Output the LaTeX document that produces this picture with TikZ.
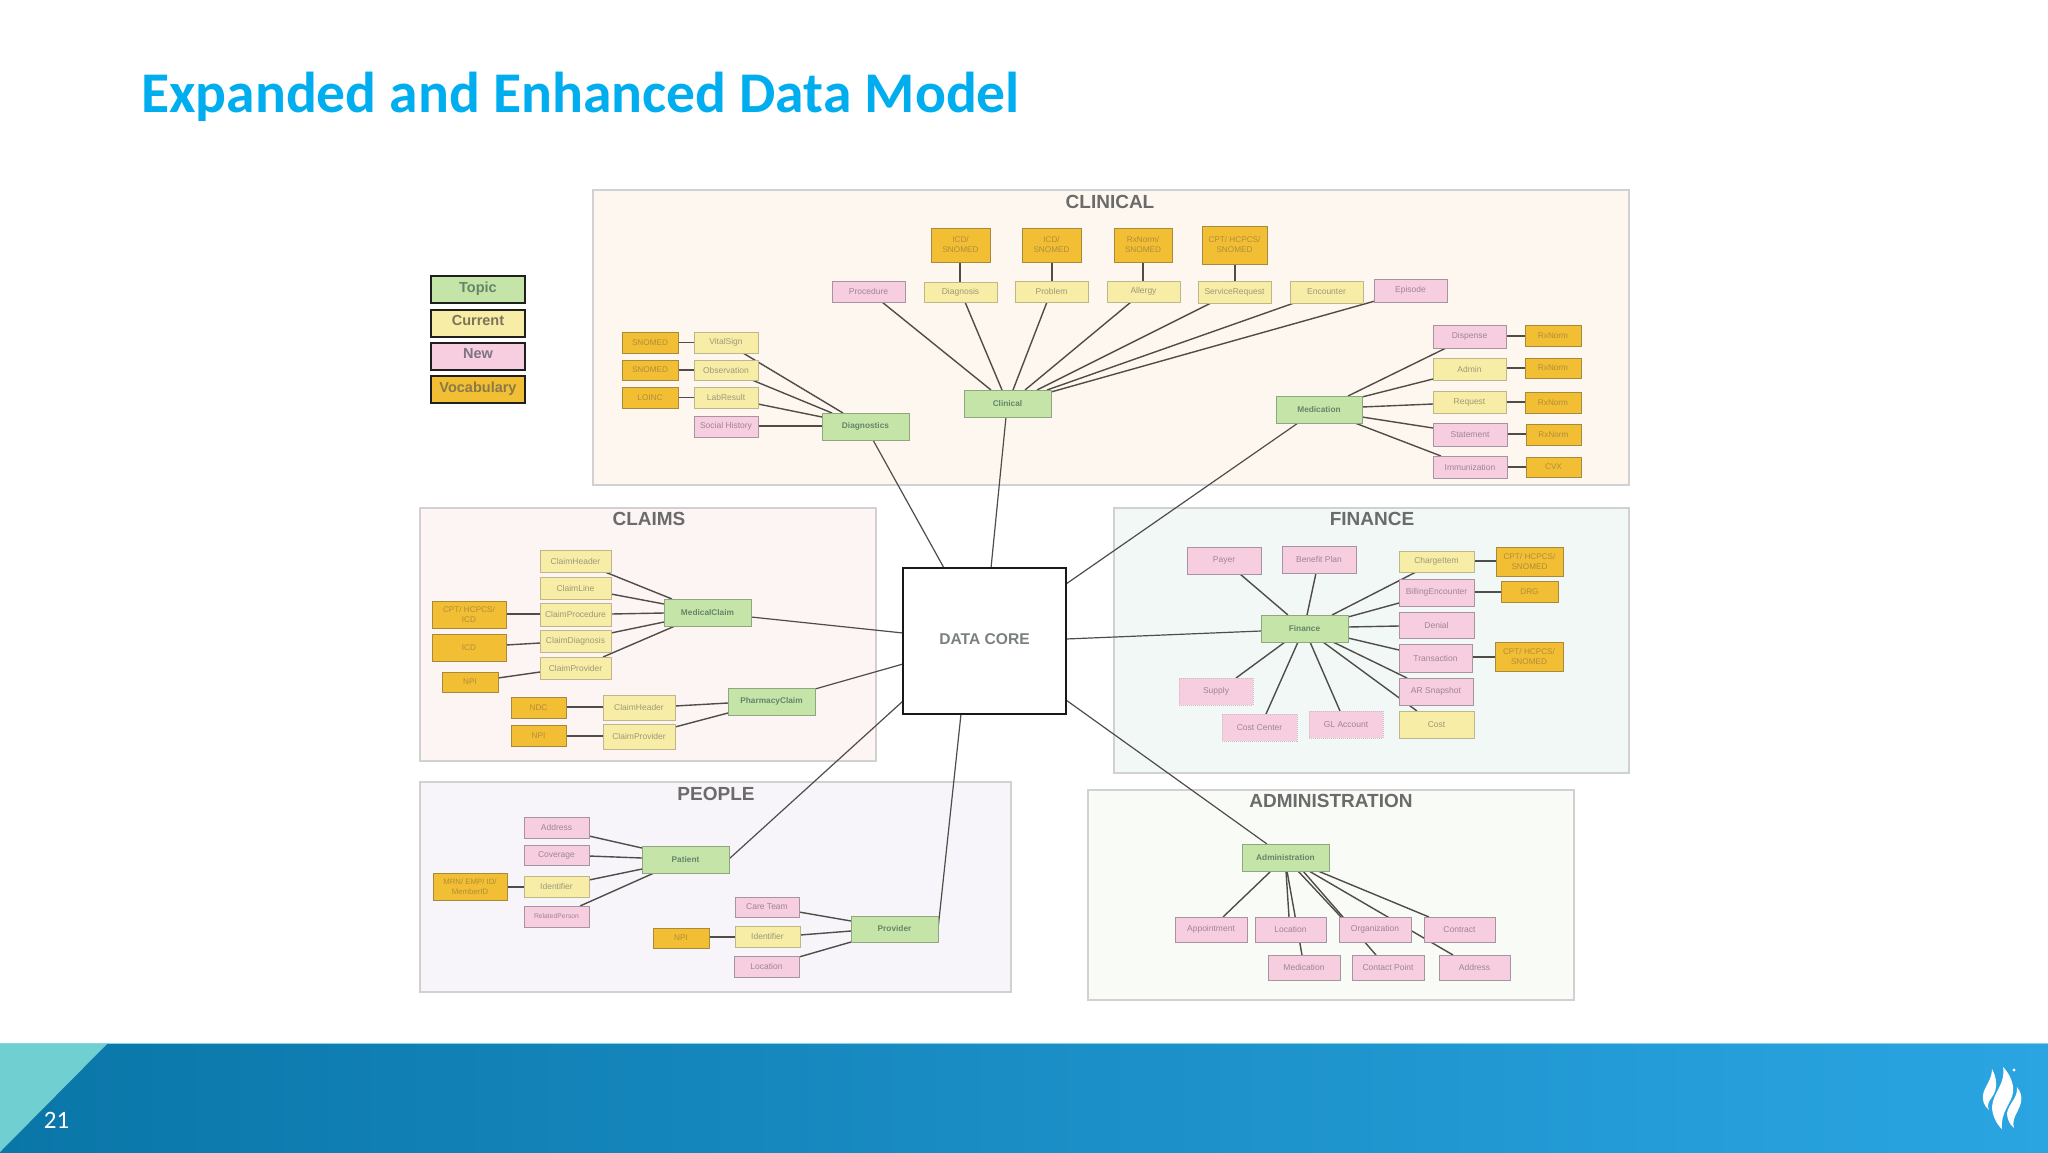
\documentclass[tikz,border=0pt]{standalone}
\usepackage{fontspec}
\setmainfont{Liberation Sans}
\newfontfamily\carlito{Carlito}
\pgfdeclarelayer{panel}
\pgfdeclarelayer{lines}
\pgfsetlayers{panel,lines,main}
\definecolor{gfill}{HTML}{C5E5A8}\definecolor{gdraw}{HTML}{8FA681}\definecolor{gtext}{HTML}{64856A}
\definecolor{yfill}{HTML}{F8EDA6}\definecolor{ydraw}{HTML}{BDB78A}\definecolor{ytext}{HTML}{9C9878}
\definecolor{pfill}{HTML}{F6CEDF}\definecolor{pdraw}{HTML}{A8949E}\definecolor{ptext}{HTML}{A08496}
\definecolor{ofill}{HTML}{F2BE33}\definecolor{odraw}{HTML}{A98A3C}\definecolor{otext}{HTML}{B08E3C}
\definecolor{linkc}{HTML}{504C48}\definecolor{titlec}{HTML}{00AEEF}
\definecolor{footl}{HTML}{0A76A8}\definecolor{footr}{HTML}{2AA5E2}\definecolor{foott}{HTML}{70CFD0}\definecolor{footline}{HTML}{82D7E6}
\definecolor{clinbg}{HTML}{FEF7EF}\definecolor{claimbg}{HTML}{FDF4F4}\definecolor{finbg}{HTML}{F1F8F6}\definecolor{peoplebg}{HTML}{F7F5FA}\definecolor{admbg}{HTML}{F9FBF6}
\definecolor{lgcur}{HTML}{7C7458}\definecolor{lgnew}{HTML}{7E7484}\definecolor{lgvoc}{HTML}{8A7A48}\definecolor{coretext}{HTML}{7A8080}
\tikzset{
 base/.style={inner sep=0pt,outer sep=0pt,align=center,line width=1pt,font=\fontsize{8.5}{10}\selectfont},
 topic/.style={base,fill=gfill,draw=gdraw,text=gtext,font=\fontsize{8.3}{10}\selectfont\bfseries},
 cur/.style={base,fill=yfill,draw=ydraw,text=ytext},
 new/.style={base,fill=pfill,draw=pdraw,text=ptext},
 newd/.style={new,draw=pdraw!60,densely dotted},
 vocab/.style={base,fill=ofill,draw=odraw,text=otext,font=\fontsize{8.2}{10}\selectfont},
 panel/.style={base,draw=black!18,line width=1.2pt},
 ptitle/.style={inner sep=0pt,text=black!58,font=\fontsize{19}{22}\selectfont\bfseries},
 legend/.style={base,draw=black!88,line width=2.5pt,font=\fontsize{14.5}{16}\selectfont\bfseries},
 core/.style={base,fill=white,draw=black!90,line width=2.5pt,text=coretext,font=\fontsize{15.6}{18}\selectfont\bfseries},
 link/.style={draw=linkc,line width=1.4pt},
 clink/.style={draw=linkc,line width=1.2pt},
 flame/.style={fill=white,draw=none},
}
% style, name, x0, y0, x1, y1, text
\newcommand\nbox[7]{%
 \pgfmathsetmacro\cxx{(#3+#5)/2}\pgfmathsetmacro\cyy{(#4+#6)/2}%
 \pgfmathsetmacro\www{#5-#3}\pgfmathsetmacro\hhh{#6-#4}%
 \expandafter\xdef\csname cx-#2\endcsname{\cxx}\expandafter\xdef\csname cy-#2\endcsname{\cyy}%
 \node[#1,minimum width=\www pt,minimum height=\hhh pt] (#2) at (\cxx,\cyy) {#7};}
% style, node a, xa, ya, node b, xb, yb : offsets are taken from the node centres
\newcommand\lnk[7][link]{%
 \pgfmathsetmacro\lax{#3-\csname cx-#2\endcsname}\pgfmathsetmacro\lay{#4-\csname cy-#2\endcsname}%
 \pgfmathsetmacro\lbx{#6-\csname cx-#5\endcsname}\pgfmathsetmacro\lby{#7-\csname cy-#5\endcsname}%
 \begin{pgfonlayer}{lines}\draw[#1] ([shift={(\lax,\lay)}]#2.center) -- ([shift={(\lbx,\lby)}]#5.center);\end{pgfonlayer}}
\begin{document}
\begin{tikzpicture}[x=1pt,y=-1pt]
\useasboundingbox (0,0) rectangle (2048,1152);
\begin{pgfonlayer}{panel}
\fill[white] (0,0) rectangle (2048,1152);
\end{pgfonlayer}
\node[anchor=base west,inner sep=0pt,text=titlec,font=\carlito\fontsize{57.6}{62}\selectfont\bfseries] (title) at (141,112.7) {Expanded and Enhanced Data Model};

% footer
\shade[left color=footl,right color=footr] (0,1043) rectangle (2048,1152);
\fill[foott] (0,1043) -- (108,1043) -- (0,1152) -- cycle;
\fill[footline] (0,1042.5) rectangle (2048,1044);
\node[text=white,inner sep=0pt,font=\carlito\fontsize{25}{28}\selectfont] (pageno) at (56.5,1120) {21};
\fill[flame] (1992,1069) .. controls (1997,1078) and (1998,1089) .. (1992,1097) .. controls (1988,1102) and (1987,1106) .. (1989,1110) .. controls (1984,1106) and (1982,1100) .. (1983,1095) .. controls (1984,1087) and (1992,1080) .. (1992,1069) -- cycle;
\fill[flame] (2003,1067) .. controls (2010,1074) and (2014,1084) .. (2013,1092) .. controls (2012,1103) and (2000,1112) .. (2002,1129) .. controls (1996,1124) and (1992,1114) .. (1992,1107) .. controls (1993,1092) and (2006,1084) .. (2003,1067) -- cycle;
\fill[flame] (2017,1087) .. controls (2021,1092) and (2022,1097) .. (2021,1102) .. controls (2019,1112) and (2011,1118) .. (2014,1128) .. controls (2009,1124) and (2007,1118) .. (2007,1113) .. controls (2009,1103) and (2018,1098) .. (2017,1087) -- cycle;
\fill[flame] (2014,1070) circle (1.7);

% legend
\nbox{legend,fill=gfill,text=gtext}{lgT}{431}{276}{525}{303}{\raisebox{5.5pt}{Topic}}
\nbox{legend,fill=yfill,text=lgcur}{lgC}{431}{310}{525}{337}{\raisebox{5.5pt}{Current}}
\nbox{legend,fill=pfill,text=lgnew}{lgN}{431}{343}{525}{370}{\raisebox{5.5pt}{New}}
\nbox{legend,fill=ofill,text=lgvoc}{lgV}{431}{376}{525}{403}{\raisebox{5.5pt}{Vocabulary}}

% panels
\begin{pgfonlayer}{panel}
\nbox{panel,fill=clinbg}{pClin}{593}{190}{1629}{485}{}
\nbox{panel,fill=claimbg}{pClaims}{420}{508}{876}{761}{}
\nbox{panel,fill=finbg}{pFin}{1114}{508}{1629}{773}{}
\nbox{panel,fill=peoplebg}{pPeople}{420}{782}{1011}{992}{}
\nbox{panel,fill=admbg}{pAdm}{1088}{790}{1574}{1000}{}
\end{pgfonlayer}
\node[ptitle] (tClin) at (1110,202) {CLINICAL};
\node[ptitle] (tClaims) at (649,519) {CLAIMS};
\node[ptitle] (tFin) at (1372,519) {FINANCE};
\node[ptitle] (tPeople) at (716,794) {PEOPLE};
\node[ptitle] (tAdm) at (1331,801) {ADMINISTRATION};

% core
\nbox{core}{core}{903}{568}{1066}{714}{\raisebox{3pt}{DATA CORE}}

% clinical
\nbox{vocab}{vICD1}{931}{228}{990}{262}{ICD/\\SNOMED}
\nbox{vocab}{vICD2}{1022}{228}{1081}{262}{ICD/\\SNOMED}
\nbox{vocab}{vRx}{1114}{228}{1172}{262}{RxNorm/\\SNOMED}
\nbox{vocab}{vCPT}{1202}{226}{1267}{264}{CPT/ HCPCS/\\SNOMED}
\nbox{new}{proc}{832}{281}{905}{302}{Procedure}
\nbox{cur}{dx}{924}{282}{997}{302}{Diagnosis}
\nbox{cur}{prob}{1015}{281}{1088}{302}{Problem}
\nbox{cur}{allergy}{1107}{281}{1180}{302}{Allergy}
\nbox{cur}{sreq}{1198}{281}{1271}{303}{ServiceRequest}
\nbox{cur}{enc}{1290}{281}{1363}{303}{Encounter}
\nbox{new}{episode}{1374}{279}{1447}{302}{Episode}
\nbox{vocab}{vS1}{622}{332}{678}{353}{SNOMED}
\nbox{vocab}{vS2}{622}{360}{678}{380}{SNOMED}
\nbox{vocab}{vL}{622}{387}{678}{408}{LOINC}
\nbox{cur}{vital}{694}{332}{758}{353}{VitalSign}
\nbox{cur}{obs}{694}{360}{758}{380}{Observation}
\nbox{cur}{lab}{694}{387}{758}{408}{LabResult}
\nbox{new}{social}{694}{416}{758}{437}{Social History}
\nbox{topic}{diag}{822}{413}{909}{440}{Diagnostics}
\nbox{topic}{clin}{964}{390}{1051}{417}{Clinical}
\nbox{topic}{med}{1276}{396}{1362}{423}{Medication}
\nbox{new}{disp}{1433}{325}{1506}{348}{Dispense}
\nbox{cur}{admin}{1433}{358}{1506}{380}{Admin}
\nbox{cur}{req}{1433}{391}{1506}{413}{Request}
\nbox{new}{stmt}{1433}{423}{1507}{446}{Statement}
\nbox{new}{imm}{1433}{456}{1507}{478}{Immunization}
\nbox{vocab}{vR1}{1525}{325}{1581}{346}{RxNorm}
\nbox{vocab}{vR2}{1525}{358}{1581}{378}{RxNorm}
\nbox{vocab}{vR3}{1525}{392}{1581}{413}{RxNorm}
\nbox{vocab}{vR4}{1526}{424}{1581}{445}{RxNorm}
\nbox{vocab}{vC}{1526}{457}{1581}{477}{CVX}

\lnk{vICD1}{960}{262}{dx}{960}{282}
\lnk{vICD2}{1052}{262}{prob}{1052}{281}
\lnk{vRx}{1143}{262}{allergy}{1143}{281}
\lnk{vCPT}{1235}{264}{sreq}{1235}{281}
\lnk{proc}{882}{302}{clin}{991}{390}
\lnk{dx}{965}{302}{clin}{1002}{390}
\lnk{prob}{1047}{302}{clin}{1013}{390}
\lnk{allergy}{1131}{302}{clin}{1025}{390}
\lnk{sreq}{1211}{303}{clin}{1037}{390}
\lnk{enc}{1294}{303}{clin}{1047}{390}
\lnk{episode}{1375}{301}{clin}{1051}{392}
\lnk{vS1}{678}{342.5}{vital}{694}{342.5}
\lnk{vS2}{678}{370}{obs}{694}{370}
\lnk{vL}{678}{397.5}{lab}{694}{397.5}
\lnk{vital}{743}{353}{diag}{843}{413}
\lnk{obs}{752}{380}{diag}{832}{413}
\lnk{lab}{758}{404}{diag}{822}{417}
\lnk{social}{758}{426}{diag}{822}{426}
\lnk{med}{1348}{396}{disp}{1446}{348}
\lnk{med}{1362}{397}{admin}{1433}{379}
\lnk{med}{1362}{407}{req}{1433}{404}
\lnk{med}{1362}{417}{stmt}{1433}{428}
\lnk{med}{1355}{423}{imm}{1441}{456}
\lnk{disp}{1506}{336}{vR1}{1525}{336}
\lnk{admin}{1506}{368}{vR2}{1525}{368}
\lnk{req}{1506}{402}{vR3}{1525}{402}
\lnk{stmt}{1507}{434}{vR4}{1526}{434}
\lnk{imm}{1507}{467}{vC}{1526}{467}

% claims
\nbox{cur}{ch}{540}{550}{611}{572}{ClaimHeader}
\nbox{cur}{cl}{540}{577}{611}{599}{ClaimLine}
\nbox{cur}{cproc}{540}{603}{611}{626}{ClaimProcedure}
\nbox{cur}{cdx}{540}{630}{611}{652}{ClaimDiagnosis}
\nbox{cur}{cprov}{540}{657}{611}{679}{ClaimProvider}
\nbox{vocab}{vCP}{432}{601}{506}{628}{CPT/ HCPCS/\\ICD}
\nbox{vocab}{vI}{432}{634}{506}{661}{ICD}
\nbox{vocab}{vN1}{442}{672}{498}{692}{NPI}
\nbox{vocab}{vNDC}{511}{697}{566}{718}{NDC}
\nbox{vocab}{vN2}{511}{725}{566}{746}{NPI}
\nbox{cur}{ch2}{603}{695}{675}{720}{ClaimHeader}
\nbox{cur}{cprov2}{603}{724}{675}{749}{ClaimProvider}
\nbox{topic}{mc}{664}{599}{751}{626}{MedicalClaim}
\nbox{topic}{pc}{728}{688}{815}{715}{PharmacyClaim}
\lnk{ch}{605}{572}{mc}{672}{599}
\lnk{cl}{611}{594}{mc}{664}{604}
\lnk{cproc}{611}{614}{mc}{664}{613}
\lnk{cdx}{611}{633}{mc}{664}{622}
\lnk{cprov}{603}{657}{mc}{675}{626}
\lnk{vCP}{506}{614}{cproc}{540}{614}
\lnk{vI}{506}{645}{cdx}{540}{643}
\lnk{vN1}{498}{678}{cprov}{540}{672}
\lnk{vNDC}{566}{707}{ch2}{603}{707}
\lnk{vN2}{566}{736}{cprov2}{603}{736}
\lnk{ch2}{675}{706}{pc}{728}{703}
\lnk{cprov2}{675}{727}{pc}{728}{713}

% finance
\nbox{new}{payer}{1187}{547}{1261}{574}{Payer}
\nbox{new}{benefit}{1282}{546}{1356}{573}{Benefit Plan}
\nbox{cur}{charge}{1399}{551}{1474}{572}{ChargeItem}
\nbox{new}{billing}{1399}{579}{1474}{606}{BillingEncounter}
\nbox{new}{denial}{1399}{612}{1474}{638}{Denial}
\nbox{new}{trans}{1399}{644}{1472}{672}{Transaction}
\nbox{new}{ar}{1399}{678}{1473}{705}{AR Snapshot}
\nbox{cur}{cost}{1399}{711}{1474}{738}{Cost}
\nbox{topic}{fin}{1261}{615}{1348}{642}{Finance}
\nbox{newd}{supply}{1179}{678}{1253}{705}{Supply}
\nbox{newd}{cc}{1222}{714}{1297}{741}{Cost Center}
\nbox{newd}{gl}{1309}{711}{1383}{738}{GL Account}
\nbox{vocab}{vF1}{1496}{547}{1563}{576}{CPT/ HCPCS/\\SNOMED}
\nbox{vocab}{vDRG}{1501}{581}{1558}{602}{DRG}
\nbox{vocab}{vF2}{1495}{642}{1563}{671}{CPT/ HCPCS/\\SNOMED}
\lnk{payer}{1240}{574}{fin}{1288}{615}
\lnk{benefit}{1316}{573}{fin}{1307}{615}
\lnk{charge}{1416}{572}{fin}{1332}{615}
\lnk{billing}{1399}{603}{fin}{1348}{617}
\lnk{denial}{1399}{626}{fin}{1348}{627}
\lnk{trans}{1399}{650}{fin}{1348}{638}
\lnk{ar}{1407}{678}{fin}{1333}{642}
\lnk{cost}{1417}{711}{fin}{1323}{642}
\lnk{gl}{1340}{711}{fin}{1310}{642}
\lnk{cc}{1266}{714}{fin}{1298}{642}
\lnk{supply}{1236}{678}{fin}{1285}{642}
\lnk{charge}{1474}{561}{vF1}{1496}{561}
\lnk{billing}{1474}{592}{vDRG}{1501}{592}
\lnk{trans}{1472}{657}{vF2}{1495}{657}

% people
\nbox{new}{addr}{524}{817}{589}{838}{Address}
\nbox{new}{cov}{524}{845}{589}{865}{Coverage}
\nbox{cur}{pid}{524}{876}{589}{897}{Identifier}
\nbox{new,font=\fontsize{6.8}{8}\selectfont}{rel}{524}{906}{589}{927}{RelatedPerson}
\nbox{vocab,font=\fontsize{7.8}{10}\selectfont}{vM}{433}{873}{507}{900}{MRN/ EMP/ ID/\\MemberID}
\nbox{topic}{pat}{642}{846}{729}{873}{Patient}
\nbox{new}{care}{735}{897}{799}{917}{Care Team}
\nbox{cur}{pid2}{735}{926}{800}{947}{Identifier}
\nbox{new}{loc}{734}{956}{799}{977}{Location}
\nbox{vocab}{vN3}{653}{928}{709}{948}{NPI}
\nbox{topic}{prov}{851}{916}{938}{942}{Provider}
\lnk{addr}{589}{836}{pat}{642}{848}
\lnk{cov}{589}{856}{pat}{642}{858}
\lnk{pid}{589}{880}{pat}{642}{869}
\lnk{rel}{580}{906}{pat}{654}{873}
\lnk{vM}{507}{887}{pid}{524}{887}
\lnk{care}{799}{912}{prov}{851}{921}
\lnk{pid2}{800}{935}{prov}{851}{931}
\lnk{loc}{799}{957}{prov}{851}{942}
\lnk{vN3}{709}{937}{pid2}{735}{937}

% administration
\nbox{topic}{adm}{1242}{844}{1329}{871}{Administration}
\nbox{new}{appt}{1175}{917}{1247}{942}{Appointment}
\nbox{new}{aloc}{1255}{917}{1326}{942}{Location}
\nbox{new}{org}{1339}{917}{1411}{942}{Organization}
\nbox{new}{contract}{1424}{917}{1495}{942}{Contract}
\nbox{new}{amed}{1268}{955}{1340}{980}{Medication}
\nbox{new}{cp}{1352}{955}{1424}{980}{Contact Point}
\nbox{new}{aaddr}{1439}{955}{1510}{980}{Address}
\lnk{adm}{1271}{871}{appt}{1223}{917}
\lnk{adm}{1286}{871}{aloc}{1289}{917}
\lnk{adm}{1287}{871}{amed}{1302}{955}
\lnk{adm}{1298}{871}{org}{1341}{917}
\lnk{adm}{1303}{871}{cp}{1376}{955}
\lnk{adm}{1309}{871}{aaddr}{1453}{955}
\lnk{adm}{1318}{871}{contract}{1429}{917}

% to the core
\lnk[clink]{diag}{873}{440}{core}{944}{568}
\lnk[clink]{clin}{1006}{417}{core}{991}{568}
\lnk[clink]{med}{1298}{423}{core}{1066}{584}
\lnk[clink]{fin}{1261}{631}{core}{1066}{639}
\lnk[clink]{adm}{1267}{844}{core}{1066}{700}
\lnk[clink]{mc}{751}{617}{core}{903}{633}
\lnk[clink]{pc}{815}{689}{core}{903}{664}
\lnk[clink]{pat}{729}{859}{core}{903}{701}
\lnk[clink]{prov}{938}{929}{core}{961}{714}
\end{tikzpicture}
\end{document}
